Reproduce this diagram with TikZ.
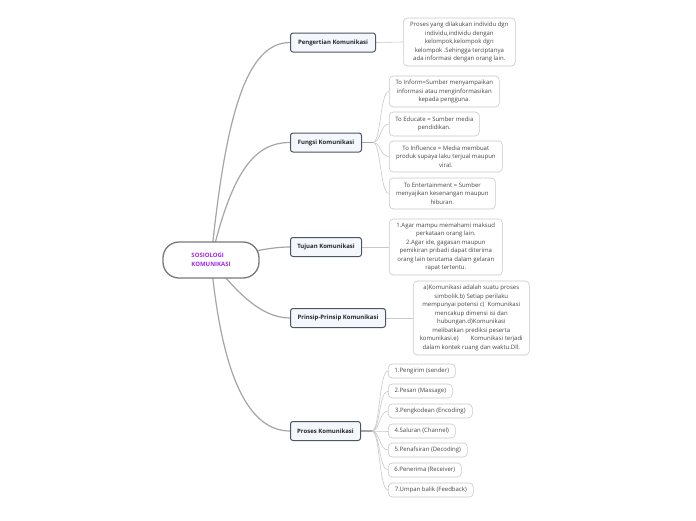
\documentclass[tikz,border=0pt]{standalone}
\usepackage{fontspec}
\setmainfont{Open Sans}
\usetikzlibrary{backgrounds}
\definecolor{mainbd}{RGB}{75,85,99}
\definecolor{mainfill}{RGB}{244,248,252}
\definecolor{maintxt}{RGB}{35,40,50}
\definecolor{leafbd}{RGB}{200,200,200}
\definecolor{leaftxt}{RGB}{70,70,70}
\definecolor{trunkc}{RGB}{165,165,165}
\definecolor{centbd}{RGB}{120,120,120}
\definecolor{centtxt}{RGB}{160,40,230}
\begin{document}
\begin{tikzpicture}[x=1pt,y=-1pt,
 central/.style={draw=centbd, line width=1.3pt, fill=white, rounded corners=16pt,
   minimum width=96pt, minimum height=36pt, font=\fontsize{6}{8.5}\selectfont\bfseries,
   text=centtxt, align=left},
 mainnode/.style={draw=mainbd, fill=mainfill, line width=1pt, rounded corners=2.5pt,
   font=\fontsize{6}{8}\selectfont\bfseries, text=maintxt, minimum height=19pt,
   inner xsep=4pt, anchor=west},
 leaf/.style={draw=leafbd, fill=white, line width=0.6pt, rounded corners=4pt,
   font=\fontsize{6}{8.5}\selectfont, text=leaftxt, align=center,
   inner xsep=3pt, inner ysep=2.5pt, anchor=west},
 trunk/.style={draw=trunkc, line width=1.2pt},
 stem/.style={draw=trunkc, line width=1.6pt},
 twig/.style={draw=leafbd, line width=0.6pt}]
\useasboundingbox (0,0) rectangle (696,520);

% central
\node[central] (c) at (211,260) {SOSIOLOGI\\KOMUNIKASI};

% main topics
\node[mainnode, minimum width=85pt] (m1) at (290,42.5) {Pengertian Komunikasi};
\node[mainnode, minimum width=71pt] (m2) at (290,142.5) {Fungsi Komunikasi};
\node[mainnode, minimum width=71pt] (m3) at (290,247) {Tujuan Komunikasi};
\node[mainnode, minimum width=95pt] (m4) at (290,318) {Prinsip-Prinsip Komunikasi};
\node[mainnode, minimum width=70pt] (m5) at (290,431) {Proses Komunikasi};

% leaves
\node[leaf, minimum width=112pt, minimum height=48pt] (l1) at (403,42)
 {Proses yang dilakukan individu dgn\\individu,individu dengan\\kelompok,kelompok dgn\\kelompok .Sehingga terciptanya\\ada informasi dengan orang lain.};

\node[leaf, minimum width=110pt, minimum height=31pt] (f1) at (389,91.5)
 {To Inform=Sumber menyampaikan\\informasi atau menginformasikan\\kepada pengguna.};
\node[leaf, minimum width=90pt, minimum height=24pt] (f2) at (389,124)
 {To Educate = Sumber media\\pendidikan.};
\node[leaf, minimum width=113pt, minimum height=31pt] (f3) at (389,156.5)
 {To Influence = Media membuat\\produk supaya laku terjual maupun\\viral.};
\node[leaf, minimum width=106pt, minimum height=31pt] (f4) at (389,193.5)
 {To Entertainment = Sumber\\menyajikan kesenangan maupun\\hiburan.};

\node[leaf, minimum width=113pt, minimum height=56pt] (t1) at (389,247)
 {1.Agar mampu memahami maksud\\perkataan orang lain.\\2.Agar ide, gagasan maupun\\pemikiran pribadi dapat diterima\\orang lain terutama dalam gelaran\\rapat tertentu.};

\node[leaf, minimum width=116pt, minimum height=74pt] (p1) at (413,318)
 {a)Komunikasi adalah suatu proses\\simbolik.b) Setiap perilaku\\mempunyai potensi c)\ \ Komunikasi\\mencakup dimensi isi dan\\hubungan.d)Komunikasi\\melibatkan prediksi peserta\\komunikasi.e)\hspace{12pt}Komunikasi terjadi\\dalam kontek ruang dan waktu.Dll.};

\node[leaf, minimum width=67pt, minimum height=14pt] (s1) at (388,371) {1.Pengirim (sender)};
\node[leaf, minimum width=64pt, minimum height=14pt] (s2) at (388,391) {2.Pesan (Massage)};
\node[leaf, minimum width=84pt, minimum height=14pt] (s3) at (388,411) {3.Pengkodean (Encoding)};
\node[leaf, minimum width=67pt, minimum height=14pt] (s4) at (388,431) {4.Saluran (Channel)};
\node[leaf, minimum width=79pt, minimum height=14pt] (s5) at (388,450) {5.Penafsiran (Decoding)};
\node[leaf, minimum width=73pt, minimum height=14pt] (s6) at (388,470) {6.Penerima (Receiver)};
\node[leaf, minimum width=85pt, minimum height=14pt] (s7) at (388,490) {7.Umpan balik (Feedback)};

\begin{scope}[on background layer]
 % central to main
 \draw[trunk] (c.center) .. controls +(14,-140) and +(-45,0) .. (m1.west);
 \draw[trunk] (c.center) .. controls +(21,-90) and +(-35,0) .. (m2.west);
 \draw[trunk] (c.center) .. controls +(40,-8) and +(-20,0) .. (m3.west);
 \draw[trunk] (c.center) .. controls +(24,30) and +(-30,0) .. (m4.west);
 \draw[trunk] (c.center) .. controls +(11,120) and +(-40,0) .. (m5.west);
 % single leaves
 \draw[twig] (m1.east) -- (l1.west);
 \draw[twig] (m3.east) -- (t1.west);
 \draw[twig] (m4.east) -- (p1.west);
 % fungsi
 \coordinate (j2) at ([xshift=11pt]m2.east);
 \draw[stem] (m2.east) -- (j2);
 \foreach \l in {f1,f2,f3,f4}
   \draw[twig] (j2) .. controls +(8,0) and +(-9,0) .. (\l.west);
 % proses
 \coordinate (j5) at ([xshift=11pt]m5.east);
 \draw[stem] (m5.east) -- (j5);
 \foreach \l in {s1,s2,s3,s4,s5,s6,s7}
   \draw[twig] (j5) .. controls +(8,0) and +(-9,0) .. (\l.west);
\end{scope}
\end{tikzpicture}
\end{document}
